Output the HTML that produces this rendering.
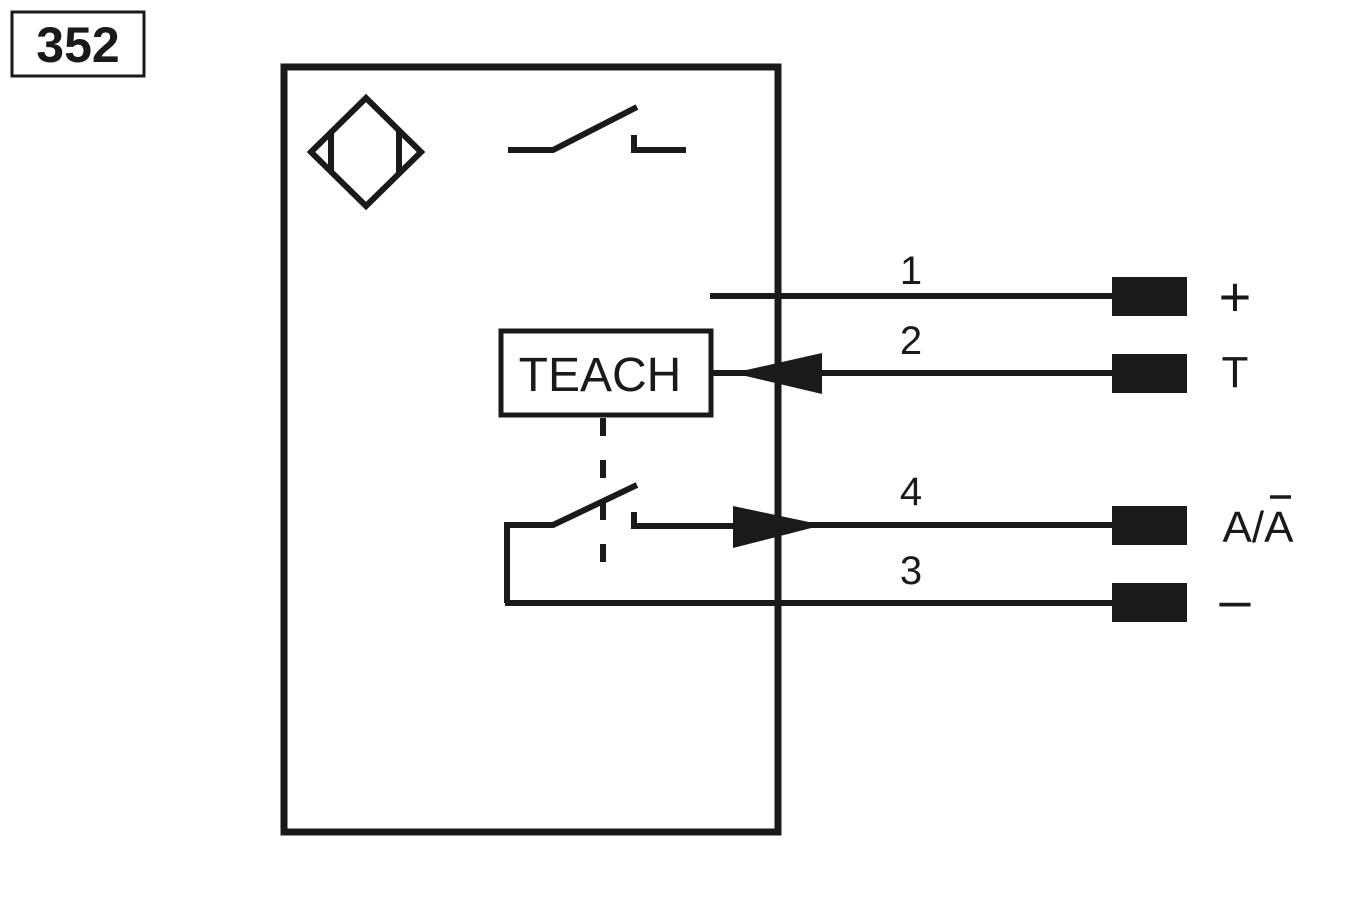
<!DOCTYPE html>
<html><head><meta charset="utf-8"><style>
html,body{margin:0;padding:0;background:#fff;}
svg{display:block;}
text{font-family:"Liberation Sans",sans-serif;fill:#1a1a1a;}
</style></head><body>
<svg width="1350" height="900" viewBox="0 0 1350 900" xmlns="http://www.w3.org/2000/svg">
<g stroke="#1a1a1a" fill="none" stroke-width="6">
<rect x="12" y="12" width="132" height="64" stroke-width="3"/>
<rect x="284" y="67" width="494" height="765" stroke-width="7"/>
<polygon points="366,98 421,152 366,206 311,152"/>
<line x1="331" y1="131" x2="331" y2="172"/>
<line x1="399" y1="131" x2="399" y2="172"/>
<polyline points="508,150 553,150 637,107"/>
<polyline points="634,135 634,150 686,150"/>
<line x1="710" y1="296" x2="1115" y2="296"/>
<rect x="501" y="331" width="210" height="84" stroke-width="5"/>
<line x1="713" y1="373" x2="1115" y2="373"/>
<line x1="603" y1="418" x2="603" y2="572" stroke-dasharray="18,24"/>
<polyline points="507,603 507,525 553,525 637,485"/>
<polyline points="634,512 634,526 740,526"/>
<line x1="740" y1="525" x2="1115" y2="525"/>
<line x1="505" y1="603" x2="1115" y2="603"/>
</g>
<g fill="#1a1a1a">
<polygon points="733,373 822,353 822,394"/>
<polygon points="823,525 733,506 733,548"/>
<rect x="1112" y="277" width="75" height="39"/>
<rect x="1112" y="354" width="75" height="39"/>
<rect x="1112" y="506" width="75" height="39"/>
<rect x="1112" y="583" width="75" height="39"/>
</g>
<text x="78" y="62" font-size="50" font-weight="bold" text-anchor="middle">352</text>
<text x="600" y="391" font-size="48" text-anchor="middle">TEACH</text>
<g font-size="40" text-anchor="middle">
<text x="911" y="284">1</text>
<text x="911" y="354">2</text>
<text x="911" y="505">4</text>
<text x="911" y="584">3</text>
<text x="1235" y="316" font-size="56">+</text>
<text x="1235" y="387" font-size="44">T</text>
<text x="1258" y="542" font-size="44">A/A</text>
<text x="1235" y="619" font-size="56">–</text>
</g>
<line x1="1270" y1="497" x2="1291" y2="497" stroke="#1a1a1a" stroke-width="3.5"/>
</svg>
</body></html>
